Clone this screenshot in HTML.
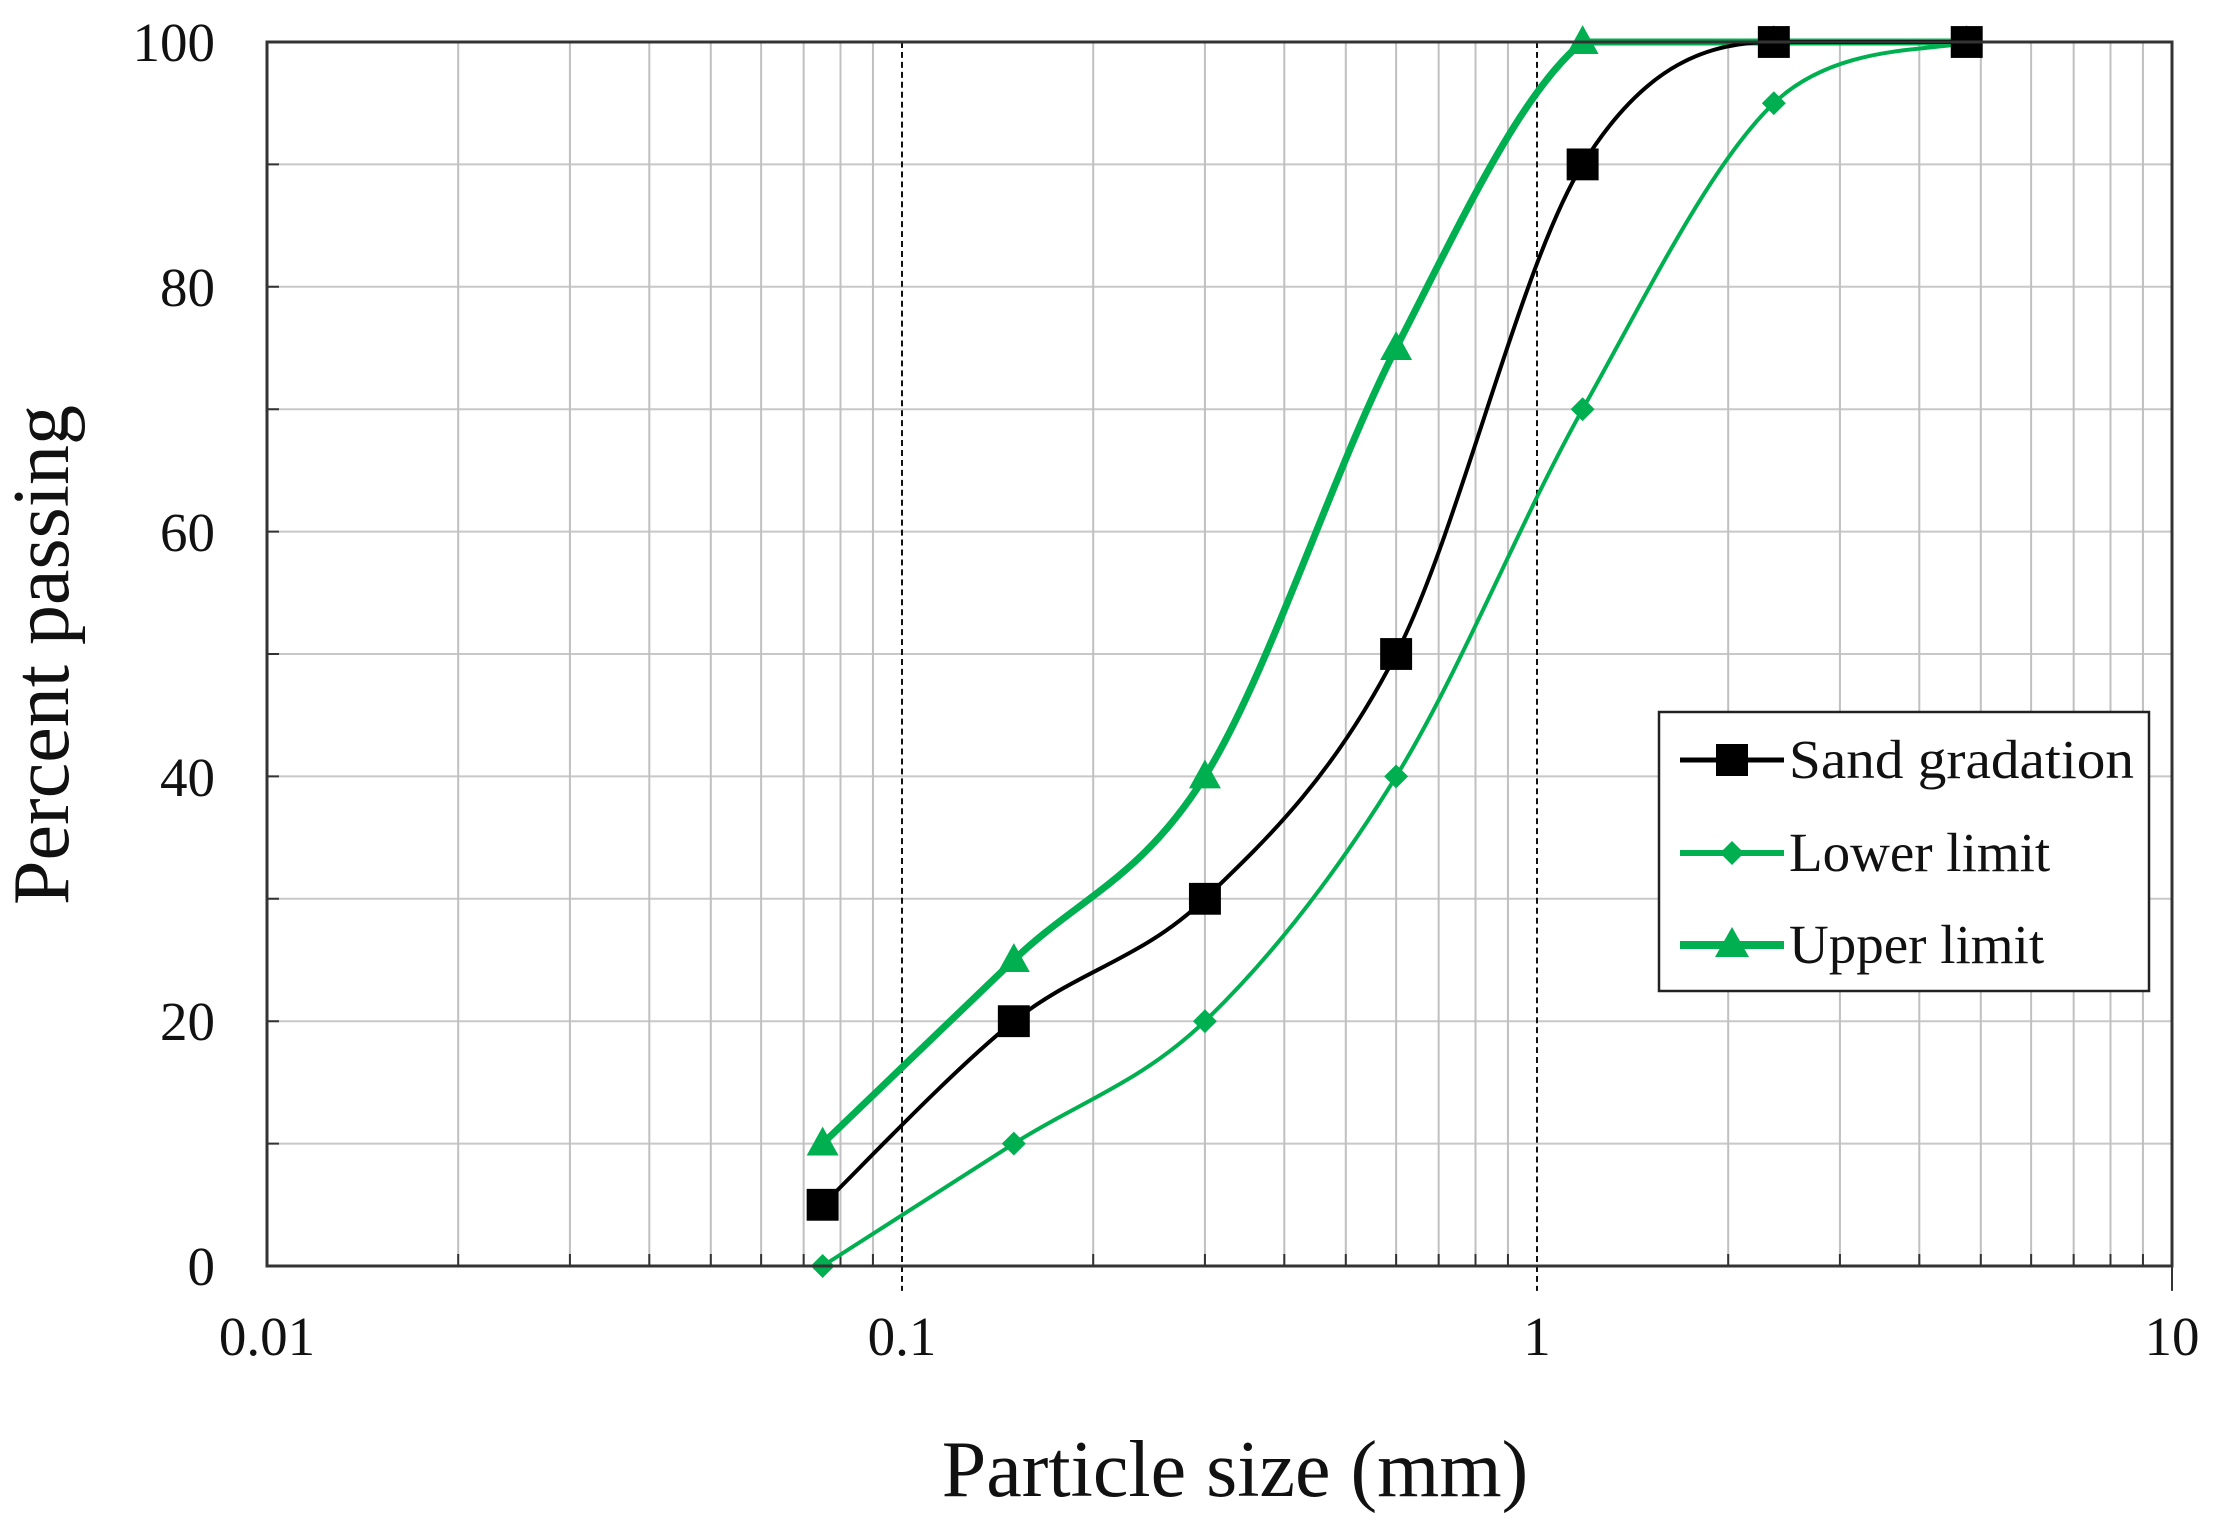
<!DOCTYPE html>
<html><head><meta charset="utf-8"><style>html,body{margin:0;padding:0;background:#fff}svg{display:block}</style></head>
<body>
<svg width="2220" height="1530" xmlns="http://www.w3.org/2000/svg" font-family="Liberation Serif, serif">
<rect width="2220" height="1530" fill="#fff"/>
<g transform="translate(267,42) scale(0.99843,0.99512) translate(-267,-42)">
<path fill="none" stroke="#c8c8c8" stroke-width="2" d="M267 1149H2175M267 1026H2175M267 903H2175M267 780H2175M267 657H2175M267 534H2175M267 411H2175M267 288H2175M267 165H2175"/>
<path fill="none" stroke="#c0c0c0" stroke-width="2" d="M458.5 42V1272M570.4 42V1272M649.9 42V1272M711.5 42V1272M761.9 42V1272M804.5 42V1272M841.4 42V1272M873.9 42V1272M1094.5 42V1272M1206.4 42V1272M1285.9 42V1272M1347.5 42V1272M1397.9 42V1272M1440.5 42V1272M1477.4 42V1272M1509.9 42V1272M1730.5 42V1272M1842.4 42V1272M1921.9 42V1272M1983.5 42V1272M2033.9 42V1272M2076.5 42V1272M2113.4 42V1272M2145.9 42V1272"/>
<path fill="none" stroke="#333" stroke-width="2" d="M267 1149h12M267 1026h12M267 903h12M267 780h12M267 657h12M267 534h12M267 411h12M267 288h12M267 165h12M458.5 1260V1272M570.4 1260V1272M649.9 1260V1272M711.5 1260V1272M761.9 1260V1272M804.5 1260V1272M841.4 1260V1272M873.9 1260V1272M1094.5 1260V1272M1206.4 1260V1272M1285.9 1260V1272M1347.5 1260V1272M1397.9 1260V1272M1440.5 1260V1272M1477.4 1260V1272M1509.9 1260V1272M1730.5 1260V1272M1842.4 1260V1272M1921.9 1260V1272M1983.5 1260V1272M2033.9 1260V1272M2076.5 1260V1272M2113.4 1260V1272M2145.9 1260V1272M2175 1272V1297"/>
<path fill="none" stroke="#111" stroke-width="2" stroke-dasharray="6,4" d="M903 42V1297M1539 42V1297"/>
<path fill="none" stroke="#00b050" stroke-width="4" d="M823.5 1272 C855.4 1251.5 951.2 1190 1015 1149 C1078.8 1108 1142.6 1087.5 1206.4 1026 C1270.2 964.5 1334.85 882.5 1397.9 780 C1460.95 677.5 1521.65 523.75 1584.7 411 C1647.75 298.25 1712.1 165 1776.2 103.5 C1840.3 42 1937.2 52.25 1969.4 42"/>
<path fill="none" stroke="#00b050" stroke-width="7" d="M823.5 1149 C855.4 1118.25 951.2 1026 1015 964.5 C1078.8 903 1142.6 882.5 1206.4 780 C1270.2 677.5 1334.85 472.5 1397.9 349.5 C1460.95 226.5 1521.65 93.25 1584.7 42 C1647.75 42 1712.1 42 1776.2 42 L1969.4 42"/>
<path fill="none" stroke="#000" stroke-width="4" d="M823.5 1210.5 C855.4 1179.75 951.2 1077.25 1015 1026 C1078.8 974.75 1142.6 964.5 1206.4 903 C1270.2 841.5 1334.85 780 1397.9 657 C1460.95 534 1521.65 267.5 1584.7 165 C1647.75 62.5 1712.1 42 1776.2 42 L1969.4 42"/>
<g fill="#00b050">
<path d="M823.5 1260l12 12l-12 12l-12-12Z M1015 1137l12 12l-12 12l-12-12Z M1206.4 1014l12 12l-12 12l-12-12Z M1397.9 768l12 12l-12 12l-12-12Z M1584.7 399l12 12l-12 12l-12-12Z M1776.2 91.5l12 12l-12 12l-12-12Z M1969.4 30l12 12l-12 12l-12-12Z"/>
<path d="M823.5 1132l16 29h-32Z M1015 947.5l16 29h-32Z M1206.4 763l16 29h-32Z M1397.9 332.5l16 29h-32Z M1584.7 25l16 29h-32Z M1776.2 25l16 29h-32Z M1969.4 25l16 29h-32Z"/>
</g>
<g fill="#000">
<rect x="807.5" y="1194.5" width="32" height="32"/><rect x="999" y="1010" width="32" height="32"/><rect x="1190.4" y="887" width="32" height="32"/><rect x="1381.9" y="641" width="32" height="32"/><rect x="1568.7" y="149" width="32" height="32"/><rect x="1760.2" y="26" width="32" height="32"/><rect x="1953.4" y="26" width="32" height="32"/>
</g>
<rect x="267" y="42" width="1908" height="1230" fill="none" stroke="#333" stroke-width="3"/>
</g>
<g font-size="55" text-anchor="end" fill="#111">
<text x="215" y="1285">0</text><text x="215" y="1040">20</text><text x="215" y="796">40</text>
<text x="215" y="551">60</text><text x="215" y="306">80</text><text x="215" y="61">100</text>
</g>
<g font-size="55" text-anchor="middle" fill="#111">
<text x="267" y="1355">0.01</text><text x="902" y="1355">0.1</text><text x="1537" y="1355">1</text><text x="2172" y="1355">10</text>
</g>
<text x="1235" y="1496" font-size="80" text-anchor="middle" fill="#111">Particle size (mm)</text>
<text transform="translate(68,655) rotate(-90)" font-size="80" text-anchor="middle" fill="#111">Percent passing</text>
<g transform="translate(-8,-3)">
<rect x="1667" y="715" width="490" height="279" fill="#fff" stroke="#222" stroke-width="2.5"/>
<g font-size="55" fill="#111">
<line x1="1688" y1="763" x2="1792" y2="763" stroke="#000" stroke-width="5"/><rect x="1724" y="747" width="32" height="32" fill="#000"/>
<text x="1797" y="781" textLength="345" lengthAdjust="spacingAndGlyphs">Sand gradation</text>
<line x1="1688" y1="856" x2="1792" y2="856" stroke="#00b050" stroke-width="6"/><path d="M1740 844 L1752 856 L1740 868 L1728 856Z" fill="#00b050"/>
<text x="1797" y="874">Lower limit</text>
<line x1="1688" y1="948" x2="1792" y2="948" stroke="#00b050" stroke-width="8"/><path d="M1740 930 L1757 960 L1723 960Z" fill="#00b050"/>
<text x="1797" y="966">Upper limit</text>
</g>
</g>
</svg>
</body></html>
